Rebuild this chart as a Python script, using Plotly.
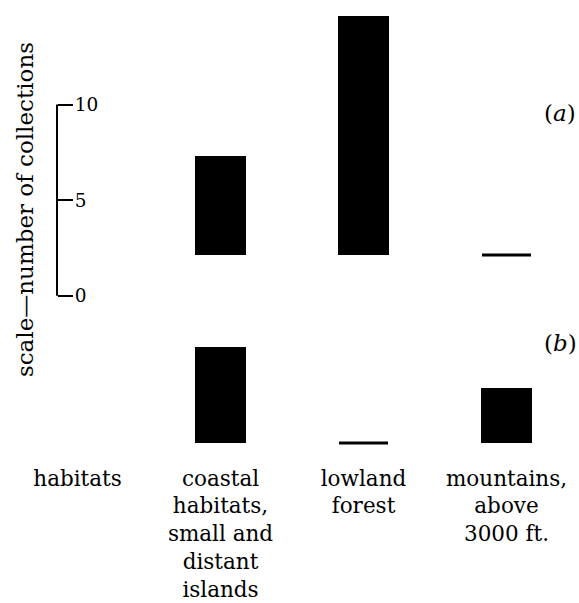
import plotly.graph_objects as go

# ---- data ----
categories = ["habitats",
              "coastal<br>habitats,<br>small and<br>distant<br>islands",
              "lowland<br>forest",
              "mountains,<br>above<br>3000 ft."]
bar_categories = categories[1:]
collections_a = [5.2, 12.5, 0]
collections_b = [5.0, 0, 2.9]
scale_ticks = [0, 5, 10]
scale_title = "scale\u2014number of collections"
row_labels = ["(<i>a</i>)", "(<i>b</i>)"]

# ---- layout geometry (pixels) ----
W, H = 579, 603
L, R, T, B = 6, 1, 10, 148
plot_w = W - L - R
plot_h = H - T - B
top_px, bottom_px = T, H - B
ppu = 19.2  # pixels per collection


def yrange(zero_px):
    return [-(bottom_px - zero_px) / ppu, (zero_px - top_px) / ppu]


def px_x(px):
    return (px - L) / plot_w


def px_y(py):
    return (bottom_px - py) / plot_h


FONT = "DejaVu Serif"
fig = go.Figure()

for vals, yax in [(collections_a, "y2"), (collections_b, "y3")]:
    fig.add_trace(go.Bar(
        x=categories, y=[None] + vals, yaxis=yax,
        marker=dict(color="black", line=dict(width=0)),
        width=0.35, showlegend=False, hoverinfo="skip"))
    zx = [c for c, v in zip(bar_categories, vals) if v == 0]
    zy = [v for v in vals if v == 0]
    fig.add_trace(go.Scatter(
        x=zx, y=zy, yaxis=yax, mode="markers",
        marker=dict(symbol="line-ew", size=35,
                    line=dict(width=3, color="black")),
        showlegend=False, hoverinfo="skip"))

scale_x = px_x(57)
fig.add_shape(type="line", xref="paper", yref="y",
              x0=scale_x, x1=scale_x, y0=scale_ticks[0], y1=scale_ticks[-1],
              line=dict(color="black", width=2))

fig.update_layout(
    width=W, height=H,
    margin=dict(l=L, r=R, t=T, b=B),
    paper_bgcolor="white", plot_bgcolor="white",
    bargap=0,
    font=dict(family=FONT, color="black", size=22),
    xaxis=dict(type="category", categoryorder="array", categoryarray=categories,
               range=[-0.5, 3.5], showgrid=False, zeroline=False,
               showline=False, ticks="", ticklabelstandoff=10,
               tickfont=dict(size=21.5, family=FONT)),
    yaxis=dict(range=yrange(297), anchor="free", position=scale_x, side="right",
               tickvals=scale_ticks, ticks="outside", ticklen=15, tickwidth=2,
               tickcolor="black", showgrid=False, zeroline=False, showline=False,
               tickfont=dict(size=18.5, family=FONT), ticklabelstandoff=-2),
    yaxis2=dict(range=yrange(256), overlaying="y", visible=False),
    yaxis3=dict(range=yrange(445), overlaying="y", visible=False),
    annotations=[
        dict(text=scale_title, textangle=-90, xref="paper", yref="paper",
             x=px_x(25), y=px_y(211), xanchor="center", yanchor="middle",
             showarrow=False, font=dict(size=23, family=FONT)),
        dict(text=row_labels[0], xref="paper", yref="paper",
             x=px_x(560), y=px_y(113), xanchor="center", yanchor="middle",
             showarrow=False, font=dict(size=23, family=FONT)),
        dict(text=row_labels[1], xref="paper", yref="paper",
             x=px_x(560), y=px_y(345), xanchor="center", yanchor="middle",
             showarrow=False, font=dict(size=23, family=FONT)),
    ],
)

fig.write_html("out.html", config={"displayModeBar": False},
               post_script="document.body.style.margin='0';")
